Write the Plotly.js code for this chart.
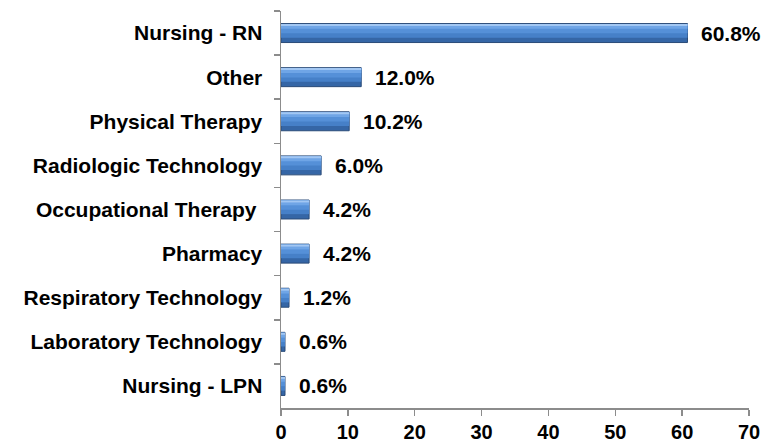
<!DOCTYPE html>
<html>
<head>
<meta charset="utf-8">
<script src="https://cdn.plot.ly/plotly-3.0.1.min.js"></script>
<style>html,body{margin:0;padding:0;background:#fff;}#chart{width:778px;height:442px;}</style>
</head>
<body>
<div id="chart"></div>
<script>
const categories = ["Nursing - RN", "Other", "Physical Therapy", "Radiologic Technology", "Occupational Therapy\u00a0", "Pharmacy", "Respiratory Technology", "Laboratory Technology", "Nursing - LPN"];
const values = [60.8, 12.0, 10.2, 6.0, 4.2, 4.2, 1.2, 0.6, 0.6];
const xTicks = [0, 10, 20, 30, 40, 50, 60, 70];

const FONT = {family: "Liberation Sans, Arial, sans-serif", size: 21, color: "#000", weight: 700};
const XFONT = {family: "Liberation Sans, Arial, sans-serif", size: 20, color: "#000", weight: 700};

function layer(color, offset, width, line) {
  return {
    type: "bar", orientation: "h", x: values, y: categories,
    offset: offset, width: width,
    marker: {color: color, line: line || {width: 0}},
    hoverinfo: "skip", cliponaxis: false
  };
}

const traces = [
  layer("#3566a6", -0.215, 0.43, {color: "#2a4b78", width: 1}),
  layer("#4680c8", -0.205, 0.31),
  layer("#5590d8", -0.205, 0.21),
  layer("#6fa5e6", -0.205, 0.11),
  layer("#a2c7f3", -0.205, 0.045)
];

const annotations = values.map((v, i) => ({
  x: v, y: categories[i], xref: "x", yref: "y",
  text: v.toFixed(1) + "%", showarrow: false,
  xanchor: "left", yanchor: "middle", xshift: 12,
  font: FONT
}));

const layout = {
  width: 778, height: 442,
  margin: {l: 281, r: 29, t: 11, b: 34},
  paper_bgcolor: "#fff", plot_bgcolor: "#fff",
  barmode: "overlay",
  showlegend: false,
  font: FONT,
  xaxis: {
    range: [0, 70], tickvals: xTicks, ticktext: xTicks.map(String),
    showgrid: false, zeroline: false,
    showline: true, linecolor: "#8c8c8c", linewidth: 1.5,
    ticks: "outside", ticklen: 6, tickcolor: "#8c8c8c", tickwidth: 1.5,
    tickfont: XFONT, ticklabelstandoff: -1
  },
  yaxis: {
    type: "category", autorange: false, range: [8.5, -0.5],
    showgrid: false, zeroline: false,
    showline: true, linecolor: "#8c8c8c", linewidth: 1.5,
    ticks: "outside", ticklen: 6, tickcolor: "#8c8c8c", tickwidth: 1.5,
    tickson: "boundaries",
    tickfont: FONT, ticklabelstandoff: 13
  },
  annotations: annotations
};

Plotly.newPlot("chart", traces, layout, {staticPlot: true, displayModeBar: false});
</script>
</body>
</html>
